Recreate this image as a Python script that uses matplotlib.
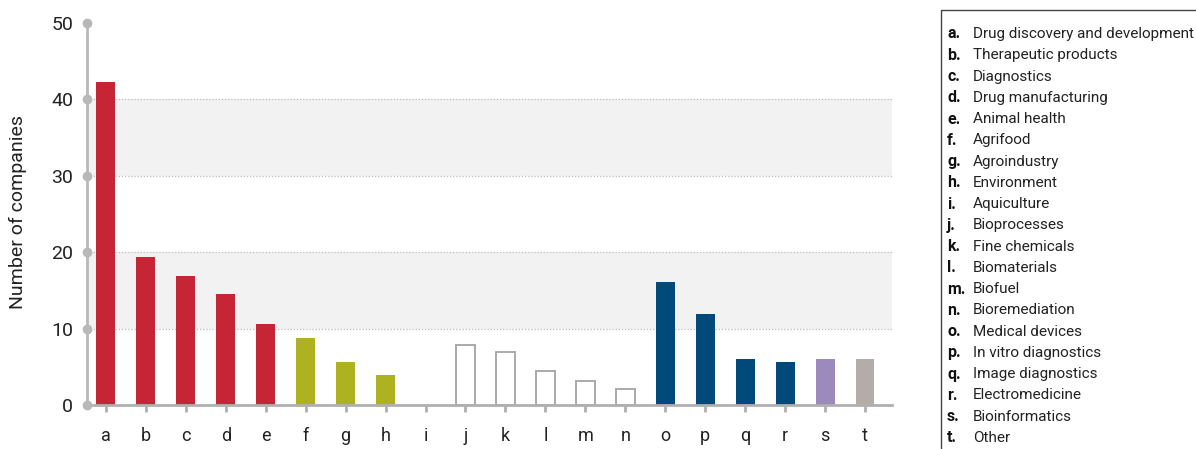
import matplotlib.pyplot as plt
from matplotlib.patches import Rectangle

letters = list("abcdefghijklmnopqrst")
values = [42.3, 19.4, 16.9, 14.5, 10.6, 8.8, 5.6, 3.9, 0, 7.85,
          6.9, 4.45, 3.1, 2.1, 16.1, 11.9, 6.0, 5.6, 6.0, 6.0]
descriptions = ["Drug discovery and development", "Therapeutic products", "Diagnostics",
                "Drug manufacturing", "Animal health", "Agrifood", "Agroindustry",
                "Environment", "Aquiculture", "Bioprocesses", "Fine chemicals",
                "Biomaterials", "Biofuel", "Bioremediation", "Medical devices",
                "In vitro diagnostics", "Image diagnostics", "Electromedicine",
                "Bioinformatics", "Other"]
groups = ["health"] * 5 + ["agro"] * 3 + ["industry"] * 6 + ["medtech"] * 4 + ["bioinfo", "other"]

fill_colors = {"health": "#c52534", "agro": "#adb220", "industry": "white",
               "medtech": "#004a7a", "bioinfo": "#9b8abb", "other": "#b4aca9"}
edge_colors = {"health": "none", "agro": "none", "industry": "#aaaaaa",
               "medtech": "none", "bioinfo": "none", "other": "none"}

plt.rcParams['font.family'] = ['Roboto', 'DejaVu Sans']

fig = plt.figure(figsize=(11.96, 4.49), dpi=100)
ax = fig.add_axes([0.0727, 0.098, 0.6731, 0.8508])

# shaded bands + dotted grid
for lo, hi in [(10, 20), (30, 40)]:
    ax.axhspan(lo, hi, color="#f2f2f2", zorder=0, lw=0)
for y in [10, 20, 30, 40]:
    ax.axhline(y, color="#bbbbbb", lw=0.9, ls=(0, (1, 1.5)), zorder=0.5)

for i, v in enumerate(values):
    g = groups[i]
    if v <= 0:
        continue
    ax.bar(i, v, width=0.475, color=fill_colors[g], edgecolor=edge_colors[g],
           linewidth=1.4 if g == "industry" else 0, zorder=2)

ax.set_xlim(-0.475, 19.675)
ax.set_ylim(0, 50)
ax.set_xticks(range(len(letters)))
ax.set_xticklabels(letters, fontsize=13, color="#222222")
ax.set_yticks([0, 10, 20, 30, 40, 50])
ax.set_yticklabels(["0", "10", "20", "30", "40", "50"], fontsize=14, color="#222222")
ax.tick_params(axis="x", length=5, width=2, color="#b0b0b0", pad=11)
ax.tick_params(axis="y", length=0, pad=10)

for s in ["top", "right"]:
    ax.spines[s].set_visible(False)
ax.spines["left"].set_color("#b8b8b8")
ax.spines["left"].set_linewidth(2)
ax.spines["bottom"].set_color("#b0b0b0")
ax.spines["bottom"].set_linewidth(2)
ax.spines["left"].set_zorder(3)

ax.plot([0] * 6, [0, 10, 20, 30, 40, 50], "o", ms=6, color="#b8b8b8",
        transform=ax.get_yaxis_transform(), clip_on=False, zorder=4)

ax.set_ylabel("Number of companies", fontsize=14, color="#222222")
ax.yaxis.set_label_coords(-0.074, 0.505)

# legend box
fig.patches.append(Rectangle((941 / 1196, -0.05), 0.3, 1 - 10 / 449 + 0.05,
                             transform=fig.transFigure, fill=False,
                             edgecolor="#444444", lw=1))
y0 = 1 - 34 / 449
step = 21.26 / 449
for i, (l, d) in enumerate(zip(letters, descriptions)):
    yy = y0 - i * step
    fig.text(947 / 1196, yy, l + ".", fontsize=11.5, fontweight="bold",
             va="center", ha="left", color="#111111")
    fig.text(973 / 1196, yy, d, fontsize=11, va="center", ha="left", color="#222222")

fig.savefig("out.png", dpi=100)
